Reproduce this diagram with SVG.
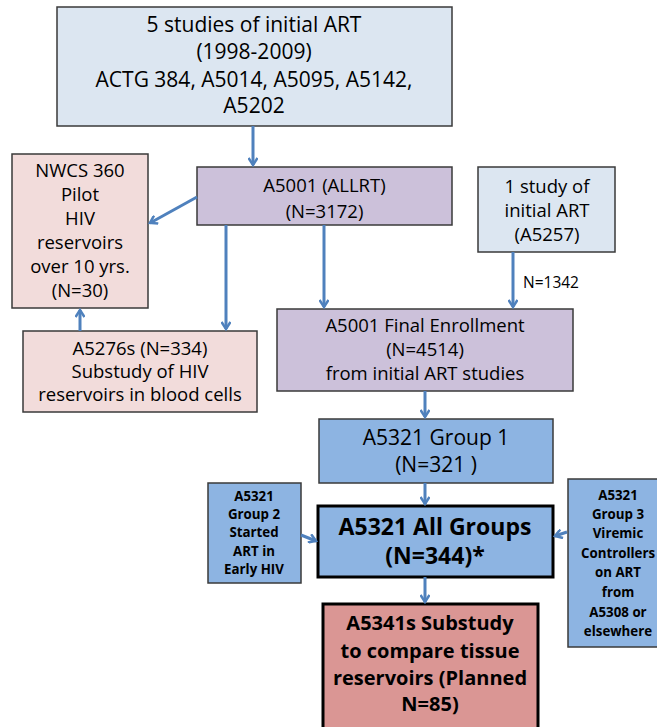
<svg xmlns="http://www.w3.org/2000/svg" width="657" height="727" viewBox="0 0 657 727">
<defs>
<marker id="ah" markerWidth="10" markerHeight="10" refX="8" refY="5" orient="auto" markerUnits="userSpaceOnUse">
<path d="M1,0.5 L8,5 L1,9.5" fill="none" stroke="#4f81bd" stroke-width="2.5"/>
</marker>
<style>
.b{stroke:#3a3a3a;stroke-width:1.5}
.bt{stroke:#000;stroke-width:3}
.t{font-family:"Open Sans","Liberation Sans",sans-serif;fill:#000;text-anchor:middle}
.f21{font-size:21px}
.f18{font-size:18.5px}
.s13{font-size:13.3px;font-weight:bold}
.big{font-size:23px;font-weight:bold}
.mid{font-size:20px;font-weight:bold}
.c{stroke:#4f81bd;stroke-width:3;fill:none;marker-end:url(#ah)}
</style>
</defs>
<rect width="657" height="727" fill="#fff"/>
<g id="studies">
<rect x="57" y="7" width="395" height="119" fill="#dce6f1" class="b"/>
<text class="t f21" x="254" y="32">5 studies of initial ART</text>
<text class="t f21" x="254" y="59">(1998-2009)</text>
<text class="t f21" x="254" y="87">ACTG 384, A5014, A5095, A5142,</text>
<text class="t f21" x="254" y="113">A5202</text>
</g>
<g id="a5001">
<rect x="197" y="167" width="255" height="58" fill="#ccc1da" class="b"/>
<text class="t f18" x="324.5" y="192">A5001 (ALLRT)</text>
<text class="t f18" x="324.5" y="218">(N=3172)</text>
</g>
<g id="nwcs">
<rect x="12" y="154" width="136" height="154" fill="#f2dcdb" class="b"/>
<text class="t f18" x="80" y="177">NWCS 360</text>
<text class="t f18" x="80" y="201">Pilot</text>
<text class="t f18" x="80" y="225">HIV</text>
<text class="t f18" x="80" y="249">reservoirs</text>
<text class="t f18" x="80" y="273">over 10 yrs.</text>
<text class="t f18" x="80" y="297">(N=30)</text>
</g>
<g id="a5276s">
<rect x="23" y="331" width="234" height="81" fill="#f2dcdb" class="b"/>
<text class="t f18" x="140" y="355">A5276s (N=334)</text>
<text class="t f18" x="140" y="378">Substudy of HIV</text>
<text class="t f18" x="140" y="401">reservoirs in blood cells</text>
</g>
<g id="a5257">
<rect x="478" y="167" width="137" height="85" fill="#dce6f1" class="b"/>
<text class="t f18" x="547" y="193">1 study of</text>
<text class="t f18" x="547" y="217">initial ART</text>
<text class="t f18" x="547" y="241">(A5257)</text>
</g>
<g id="final">
<rect x="277" y="309" width="296" height="82" fill="#ccc1da" class="b"/>
<text class="t f18" x="425" y="332">A5001 Final Enrollment</text>
<text class="t f18" x="425" y="356">(N=4514)</text>
<text class="t f18" x="425" y="380">from initial ART studies</text>
</g>
<g id="group1">
<rect x="319" y="419" width="234" height="64" fill="#8db4e2" class="b"/>
<text class="t f21" x="436" y="445">A5321 Group 1</text>
<text class="t f21" x="436" y="472">(N=321 )</text>
</g>
<g id="group2">
<rect x="208" y="483" width="93" height="100" fill="#8db4e2" class="b"/>
<text class="t s13" x="254" y="501">A5321</text>
<text class="t s13" x="254" y="519">Group 2</text>
<text class="t s13" x="254" y="537">Started</text>
<text class="t s13" x="254" y="556">ART in</text>
<text class="t s13" x="254" y="574">Early HIV</text>
</g>
<g id="allgroups">
<rect x="318" y="506" width="235" height="71" fill="#8db4e2" class="bt"/>
<text class="t big" x="435" y="535">A5321 All Groups</text>
<text class="t big" x="435" y="564">(N=344)*</text>
</g>
<g id="group3">
<rect x="568" y="479" width="100" height="168" fill="#8db4e2" class="b"/>
<text class="t s13" x="618" y="500">A5321</text>
<text class="t s13" x="618" y="519">Group 3</text>
<text class="t s13" x="618" y="538">Viremic</text>
<text class="t s13" x="618" y="558">Controllers</text>
<text class="t s13" x="618" y="577">on ART</text>
<text class="t s13" x="618" y="597">from</text>
<text class="t s13" x="618" y="617">A5308 or</text>
<text class="t s13" x="618" y="636">elsewhere</text>
</g>
<g id="a5341s">
<rect x="323" y="604" width="215" height="126" fill="#da9694" class="bt"/>
<text class="t mid" x="430" y="630">A5341s Substudy</text>
<text class="t mid" x="430" y="658">to compare tissue</text>
<text class="t mid" x="430" y="685">reservoirs (Planned</text>
<text class="t mid" x="430" y="711">N=85)</text>
</g>
<g id="connectors">
<line x1="253" y1="126" x2="253" y2="165" class="c"/>
<line x1="197" y1="197" x2="150" y2="223" class="c"/>
<line x1="226" y1="225" x2="226" y2="329" class="c"/>
<line x1="80" y1="331" x2="80" y2="310" class="c"/>
<line x1="324" y1="225" x2="324" y2="307" class="c"/>
<line x1="513" y1="252" x2="513" y2="307" class="c"/>
<text class="t" style="font-size:15.5px" x="551" y="288">N=1342</text>
<line x1="425" y1="391" x2="425" y2="417" class="c"/>
<line x1="425" y1="483" x2="425" y2="504" class="c"/>
<line x1="301" y1="535" x2="316" y2="541" class="c"/>
<line x1="567" y1="532" x2="555" y2="536" class="c"/>
<line x1="425" y1="577" x2="425" y2="602" class="c"/>
</g>
</svg>
